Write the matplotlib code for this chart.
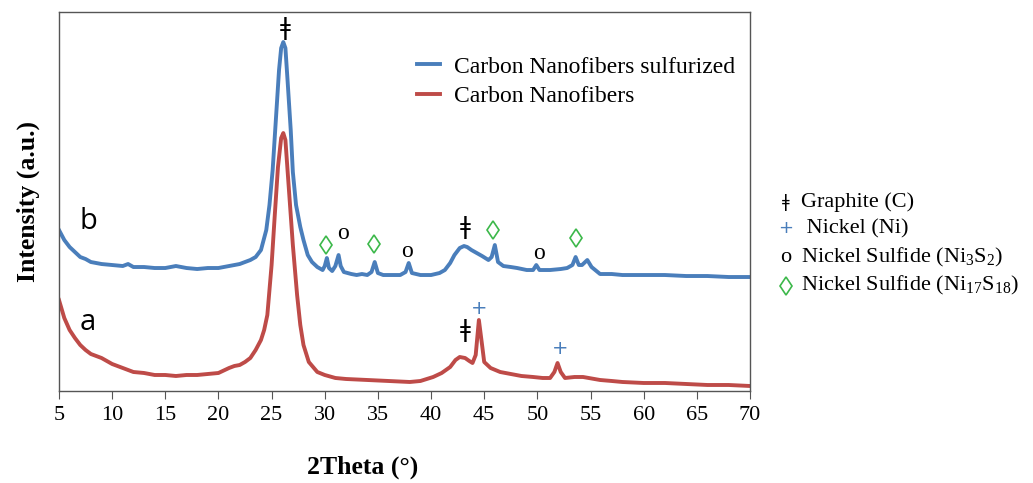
import matplotlib.pyplot as plt

# XRD patterns, intensity in arbitrary units
two_theta_b = [5.0, 5.5, 6.0, 6.5, 7.0, 7.5, 8.0, 8.5, 9.0, 10, 11, 11.5, 12, 13, 14, 15, 16, 17, 18, 19,
               20, 21, 22, 22.5, 23, 23.5, 24, 24.5, 24.8, 25.1, 25.4, 25.7, 25.9, 26.1, 26.3, 26.5, 26.8,
               27.0, 27.3, 27.7, 28.0, 28.4, 28.8, 29.3, 29.8, 30.0, 30.2, 30.4, 30.7, 31.0, 31.3, 31.5,
               31.8, 32.5, 33.0, 33.5, 34.0, 34.4, 34.7, 35.0, 35.5, 36.5, 37.1, 37.6, 37.9, 38.2, 39, 40,
               40.8, 41.3, 41.8, 42.2, 42.7, 43.1, 43.4, 43.8, 44.3, 44.8, 45.4, 45.7, 46.0, 46.3, 46.8,
               47.5, 48.1, 49.0, 49.6, 49.9, 50.2, 51.2, 52.2, 52.8, 53.3, 53.6, 53.9, 54.2, 54.7, 55.1,
               55.9, 57, 58, 60, 62, 64, 66, 68, 70]
intensity_b = [161, 151, 144, 139, 134, 132, 129, 128, 127, 126, 125, 127, 124, 124, 123, 123, 125, 123, 122, 123,
               123, 125, 127, 129, 131, 134, 141, 161, 186, 221, 271, 321, 343, 349, 343, 311, 261,
               219, 186, 164, 151, 136, 129, 124, 121, 125, 133, 123, 120, 125, 136, 125,
               119, 117, 116, 117, 116, 119, 129, 118, 116, 116, 116, 119, 128, 118, 116, 116,
               118, 121, 128, 136, 143, 145, 144, 141, 138, 135, 131, 134, 146, 129, 125,
               124, 123, 121, 121, 126, 121, 121, 122, 123, 126, 134, 126, 126, 131, 124,
               117, 117, 116, 116, 116, 115, 115, 114, 114]

two_theta_a = [5.0, 5.5, 6.0, 6.5, 7.0, 7.5, 8.0, 9, 10, 11, 12, 13, 14, 15, 16, 17, 18, 19, 20, 21, 21.5,
               22, 22.5, 23, 23.5, 24, 24.3, 24.6, 25.0, 25.3, 25.6, 25.9, 26.1, 26.3, 26.7, 27.0, 27.4,
               27.7, 28.0, 28.5, 29.3, 30, 31, 32, 34, 36, 38, 39, 40.2, 41, 41.8, 42.3, 42.7, 43.2, 43.6,
               43.9, 44.2, 44.5, 44.8, 45.0, 45.6, 46.5, 47.5, 48.5, 49.6, 50.5, 51.2, 51.6, 51.9, 52.2,
               52.6, 53.5, 54.3, 55.9, 57, 58, 60, 62, 64, 66, 68, 70]
intensity_a = [91, 73, 61, 53, 46, 41, 37, 33, 27, 23, 19, 18, 16, 16, 15, 16, 16, 17, 18, 23, 25,
               26, 29, 33, 41, 51, 61, 76, 126, 176, 224, 253, 258, 251, 191, 146, 96,
               66, 46, 29, 19, 16, 13, 12, 11, 10, 9, 10, 14, 18, 24, 31, 34, 33, 30,
               28, 36, 71, 46, 29, 23, 19, 17, 15, 14, 13, 13, 19, 28, 19,
               13, 14, 14, 11, 10, 9, 8, 8, 7, 6, 6, 5]

# peak markers: (2theta, height, symbol kind)
peak_marks = [(26.26, 363, 'graphite'),
              (30.1, 146, 'diamond'), (31.7, 158, 'o'), (34.6, 147, 'diamond'), (37.7, 140, 'o'),
              (43.2, 164, 'graphite'), (45.8, 161, 'diamond'), (50.2, 138, 'o'), (53.6, 153, 'diamond'),
              (43.2, 61, 'graphite'), (44.5, 83, 'plus'), (52.1, 42, 'plus')]

legend_names = ['Graphite (C)', ' Nickel (Ni)', 'Nickel Sulfide (Ni$_3$S$_2$)',
                'Nickel Sulfide (Ni$_{17}$S$_{18}$)']
legend_kinds = ['graphite', 'plus', 'o', 'diamond']

BLUE = '#4a7ebb'
RED = '#be4b48'
GREEN = '#3cb84a'
SERIF = ['Liberation Serif', 'DejaVu Serif']

plt.rcParams['font.family'] = SERIF
plt.rcParams['mathtext.fontset'] = 'custom'
plt.rcParams['mathtext.rm'] = 'Liberation Serif'

symbols = {'graphite': ('\u01c2', 'black'), 'plus': ('+', BLUE), 'o': ('o', 'black')}


def put_symbol(ax, x, y, kind, size, transform):
    # draws one phase symbol; the diamond is an open marker, the rest are glyphs
    if kind == 'diamond':
        ax.plot([x], [y], marker='d', ms=size, mfc='none', mec=GREEN, mew=1.2,
                transform=transform, clip_on=False)
        return
    s, c = symbols[kind]
    fam = SERIF if kind == 'o' else ['DejaVu Sans']
    ax.text(x, y, s, color=c, ha='center', va='center', fontsize=size, family=fam,
            transform=transform, clip_on=False)


fig = plt.figure(figsize=(10.33, 4.83), dpi=100)
ax = fig.add_axes([0.0571, 0.1905, 0.6689, 0.7845])

ax.plot(two_theta_b, intensity_b, color=BLUE, lw=2.8, label='Carbon Nanofibers sulfurized')
ax.plot(two_theta_a, intensity_a, color=RED, lw=2.8, label='Carbon Nanofibers')

mark_size = {'graphite': 17, 'plus': 14, 'o': 17, 'diamond': 9.5}
for x, y, kind in peak_marks:
    put_symbol(ax, x, y, kind, mark_size[kind], ax.transData)

ax.text(6.9, 170, 'b', fontsize=21, family=['Open Sans'], va='center')
ax.text(6.9, 69, 'a', fontsize=21, family=['Open Sans'], va='center')

ax.set_xlim(5, 70)
ax.set_ylim(0, 379)
ax.set_xticks(range(5, 71, 5))
ax.set_yticks([])
ax.tick_params(axis='x', direction='out', length=6, labelsize=16, color='#555555', pad=5)
for sp in ax.spines.values():
    sp.set_color('#555555')
    sp.set_linewidth(1)

ax.set_xlabel('2Theta (\u00b0)', fontsize=18.5, fontweight='bold', labelpad=20)
ax.xaxis.set_label_coords(0.439, -0.17)
ax.set_ylabel('Intensity (a.u.)', fontsize=18.5, fontweight='bold', labelpad=14)

ax.legend(loc='upper left', bbox_to_anchor=(0.488, 0.94), frameon=False, fontsize=17,
          handlelength=0.95, handletextpad=0.6, labelspacing=0.35)

legend_size = {'graphite': 12, 'plus': 13, 'o': 16, 'diamond': 9.5}
ys = [0.582, 0.527, 0.466, 0.408]
for name, kind, y in zip(legend_names, legend_kinds, ys):
    put_symbol(ax, 0.761, y, kind, legend_size[kind], fig.transFigure)
    fig.text(0.775, y, name, fontsize=16, va='center')

fig.savefig('out.png', dpi=100)
